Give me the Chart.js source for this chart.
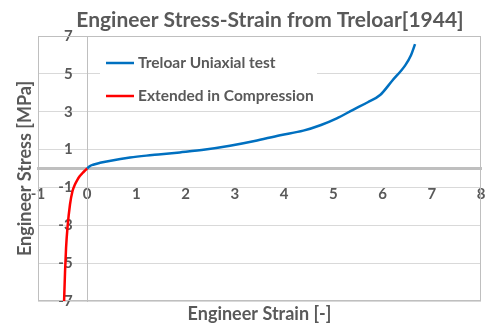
<!DOCTYPE html>
<html>
<head>
<meta charset="utf-8">
<script src="https://cdn.jsdelivr.net/npm/chart.js@4/dist/chart.umd.min.js"></script>
<style>
  html, body { margin: 0; padding: 0; background: #fff; }
  #wrap { width: 498px; height: 334px; }
</style>
</head>
<body>
<div id="wrap"><canvas id="chart"></canvas></div>
<script>
// values
const uniaxialStrain = [0, 0.05, 0.12, 0.26, 0.45, 0.87, 1.2, 1.5, 1.88, 2.4, 2.9, 3.4, 3.92, 4.39, 4.75, 5.07, 5.4, 5.7, 5.95, 6.2, 6.46, 6.58, 6.66];
const uniaxialStress = [0, 0.12, 0.2, 0.3, 0.4, 0.58, 0.68, 0.75, 0.85, 1.0, 1.2, 1.45, 1.76, 2.0, 2.3, 2.65, 3.1, 3.5, 3.88, 4.65, 5.45, 6.0, 6.57];
const compStrain = [0, -0.05, -0.1, -0.15, -0.2, -0.25, -0.3, -0.35, -0.4, -0.43, -0.45, -0.47];
const compStress = [0, -0.12, -0.25, -0.4, -0.6, -0.85, -1.2, -1.9, -3.1, -4.2, -5.4, -7.0];
const seriesLabels = ['Treloar Uniaxial test', 'Extended in Compression'];
const seriesColors = ['#0070C0', '#FF0000'];

const chartTitle = 'Engineer Stress-Strain from Treloar[1944]';
const xTitle = 'Engineer Strain [-]';
const yTitle = 'Engineer Stress [MPa]';
const textColor = '#595959';
const fontFamily = 'Lato, "Liberation Sans", sans-serif';

function toPoints(xs, ys) {
  return xs.map((x, i) => ({ x: x, y: ys[i] }));
}

// plot frame, title, axis titles and the floating legend box
const decorations = {
  id: 'decorations',
  beforeDatasetsDraw(chart) {
    const { ctx, chartArea } = chart;
    ctx.save();
    ctx.strokeStyle = '#bfbfbf';
    ctx.lineWidth = 1;
    ctx.strokeRect(chartArea.left + 0.5, chartArea.top + 0.5,
      chartArea.right - chartArea.left - 1, chartArea.bottom - chartArea.top - 1);
    ctx.restore();
  },
  afterDraw(chart) {
    const { ctx, chartArea } = chart;
    ctx.save();
    ctx.fillStyle = textColor;
    ctx.textAlign = 'center';
    ctx.textBaseline = 'middle';

    ctx.font = 'bold 21px ' + fontFamily;
    ctx.fillText(chartTitle, 270, 20);

    ctx.font = 'bold 18px ' + fontFamily;
    ctx.fillText(xTitle, (chartArea.left + chartArea.right) / 2, 314);

    ctx.save();
    ctx.translate(25, (chartArea.top + chartArea.bottom) / 2);
    ctx.rotate(-Math.PI / 2);
    ctx.fillText(yTitle, 0, 0);
    ctx.restore();

    // legend box inside the plot
    const lx = 100, ly = 44, lw = 217, lh = 66;
    ctx.fillStyle = '#ffffff';
    ctx.fillRect(lx, ly, lw, lh);
    ctx.font = 'bold 15.5px ' + fontFamily;
    ctx.textAlign = 'left';
    chart.data.datasets.forEach((ds, i) => {
      const y = 63 + i * 33;
      ctx.strokeStyle = ds.borderColor;
      ctx.lineWidth = 2.5;
      ctx.beginPath();
      ctx.moveTo(106, y);
      ctx.lineTo(134, y);
      ctx.stroke();
      ctx.fillStyle = textColor;
      ctx.fillText(ds.label, 138, y);
    });
    ctx.restore();
  }
};

new Chart(document.getElementById('chart'), {
  type: 'scatter',
  data: {
    datasets: [
      {
        label: seriesLabels[0],
        data: toPoints(uniaxialStrain, uniaxialStress),
        showLine: true,
        borderColor: seriesColors[0],
        backgroundColor: seriesColors[0],
        borderWidth: 2.5,
        pointRadius: 0,
        cubicInterpolationMode: 'monotone'
      },
      {
        label: seriesLabels[1],
        data: toPoints(compStrain, compStress),
        showLine: true,
        borderColor: seriesColors[1],
        backgroundColor: seriesColors[1],
        borderWidth: 2.5,
        pointRadius: 0,
        cubicInterpolationMode: 'monotone'
      }
    ]
  },
  options: {
    responsive: true,
    maintainAspectRatio: false,
    animation: false,
    layout: { padding: { left: 38, right: 17, top: 36, bottom: 33 } },
    plugins: {
      legend: { display: false },
      title: { display: false },
      tooltip: { enabled: false }
    },
    scales: {
      x: {
        type: 'linear',
        position: { y: 0 },
        min: -1,
        max: 8,
        // invisible tick marks keep the labels clear of the crossing axis
        grid: { color: 'rgba(0,0,0,0)', drawTicks: true, tickLength: 17, tickColor: 'rgba(0,0,0,0)' },
        border: { display: true, color: '#bfbfbf', width: 3 },
        ticks: {
          stepSize: 1,
          padding: 0,
          color: textColor,
          font: { family: fontFamily, size: 15, weight: 'bold' }
        }
      },
      y: {
        type: 'linear',
        position: { x: 0 },
        min: -7,
        max: 7,
        grid: { color: '#d9d9d9', lineWidth: 1, drawTicks: false },
        border: { display: true, color: '#bfbfbf', width: 1 },
        ticks: {
          stepSize: 2,
          color: textColor,
          font: { family: fontFamily, size: 15, weight: 'bold' },
          // a positioned y axis ignores padding, so trailing spaces push the labels left
          callback: (value) => value + '    '
        }
      }
    }
  },
  plugins: [decorations]
});
</script>
</body>
</html>
